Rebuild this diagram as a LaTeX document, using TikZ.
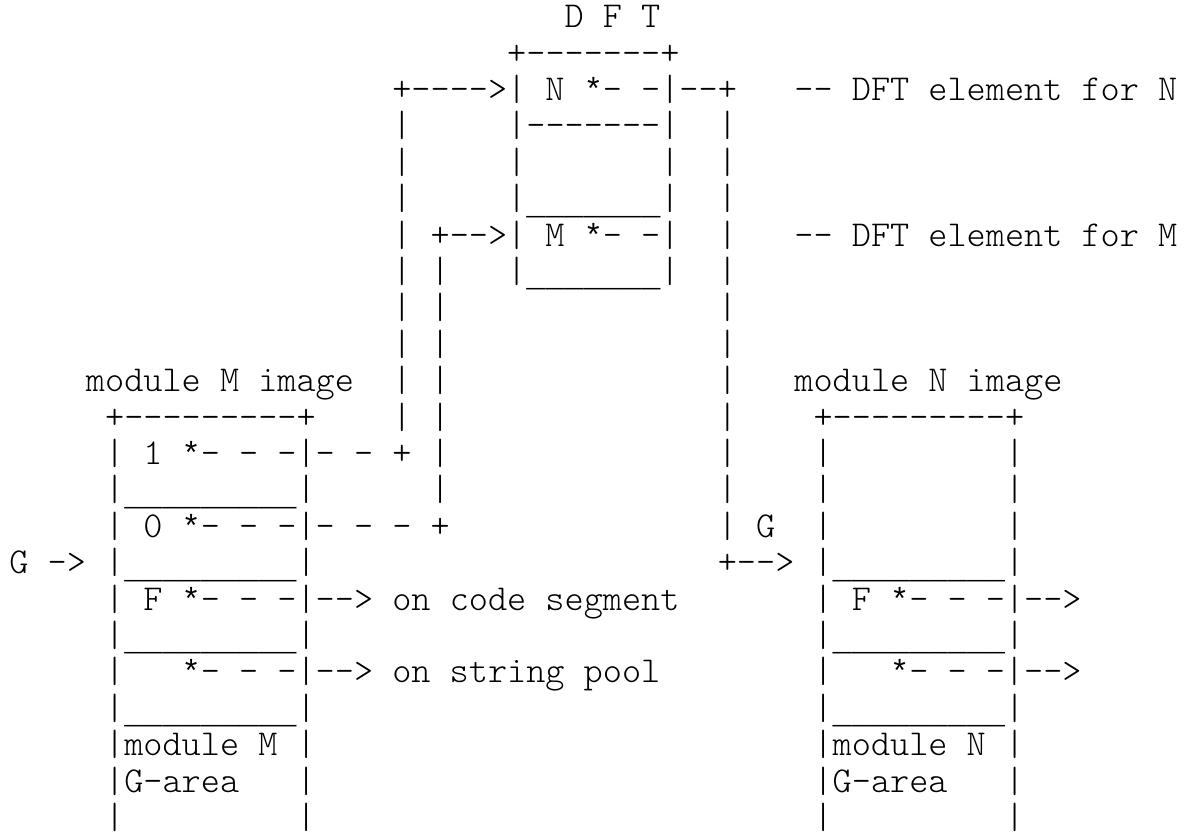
\documentclass[tikz,border=0pt]{standalone}
\usepackage{fontspec}
\setmonofont{lmmonolt10-regular.otf}
\newfontfamily\libmono{Liberation Mono}
\tikzset{
  txt/.style={anchor=base west, inner sep=0pt, outer sep=0pt,
    font=\ttfamily\fontsize{27.35pt}{27.3pt}\selectfont},
}
\newcommand\st{{\libmono\fontsize{23.94pt}{27.3pt}\selectfont*}}
\def\ulseven{\raisebox{-3.4pt}{\libmono\fontsize{23.94pt}{27.3pt}\selectfont\_\_\_\_\_\_\_}}
\def\ulnine{\raisebox{-3.4pt}{\libmono\fontsize{23.94pt}{27.3pt}\selectfont\_\_\_\_\_\_\_\_\_}}
\begin{document}
\begin{tikzpicture}
      \def\cw{14.36pt}% one character
      \def\lh{27.3pt}% one line
      \useasboundingbox (0,0) rectangle (894.75pt,-624pt);
      \begin{scope}[shift={(7.05pt,6.6pt)}, x=\cw, y=-\lh]
      %
      \node[txt] (dftTitle) at (29,1) {D F T};                  % DFT table
      \node[txt] (dftTop)   at (26,2) {+-------+};
      \node[txt] (dftN)     at (20,3) {+---->| N \st- -|--+};
      \node[txt] (noteN)    at (41,3) {-- DFT element for N};
      \node[txt] (r4a) at (20,4) {|};
      \node[txt] (r4b) at (26,4) {|-------|};
      \node[txt] (r4c) at (37,4) {|};
      \node[txt] (r5a) at (20,5) {|};
      \node[txt] (r5b) at (26,5) {|};
      \node[txt] (r5c) at (34,5) {|};
      \node[txt] (r5d) at (37,5) {|};
      \node[txt] (r6a) at (20,6) {|};
      \node[txt] (r6b) at (26,6) {|\ulseven|};
      \node[txt] (r6c) at (37,6) {|};
      \node[txt] (dftM)  at (20,7) {| +-->| M \st- -|};
      \node[txt] (r7c)   at (37,7) {|};
      \node[txt] (noteM) at (41,7) {-- DFT element for M};
      \node[txt] (r8a) at (20,8) {| |};
      \node[txt] (r8b) at (26,8) {|\ulseven|};
      \node[txt] (r8c) at (37,8) {|};
      \node[txt] (r9a)  at (20,9)  {| |};
      \node[txt] (r9c)  at (37,9)  {|};
      \node[txt] (r10a) at (20,10) {| |};
      \node[txt] (r10c) at (37,10) {|};
      %
      \node[txt] (modMTitle) at (4,11)  {module M image};        % module M
      \node[txt] (r11a)      at (20,11) {| |};
      \node[txt] (r11c)      at (37,11) {|};
      \node[txt] (modNTitle) at (41,11) {module N image};        % module N
      \node[txt] (modMTop) at (5,12)  {+---------+};
      \node[txt] (r12a)    at (20,12) {| |};
      \node[txt] (r12c)    at (37,12) {|};
      \node[txt] (modNTop) at (42,12) {+---------+};
      \node[txt] (modMOne) at (5,13)  {| 1 \st- - -|- - + |};
      \node[txt] (r13c)    at (37,13) {|};
      \node[txt] (r13d)    at (42,13) {|};
      \node[txt] (r13e)    at (52,13) {|};
      \node[txt] (r14a) at (5,14)  {|\ulnine|};
      \node[txt] (r14b) at (22,14) {|};
      \node[txt] (r14c) at (37,14) {|};
      \node[txt] (r14d) at (42,14) {|};
      \node[txt] (r14e) at (52,14) {|};
      \node[txt] (modMZero) at (5,15)  {| 0 \st- - -|- - - +};
      \node[txt] (linkG)    at (37,15) {| G};
      \node[txt] (r15d)     at (42,15) {|};
      \node[txt] (r15e)     at (52,15) {|};
      \node[txt] (gM) at (0,16)  {G -> |\ulnine|};
      \node[txt] (gN) at (37,16) {+--> |\ulnine|};
      \node[txt] (modMF) at (5,17)  {| F \st- - -|--> on code segment};
      \node[txt] (modNF) at (42,17) {| F \st- - -|-->};
      \node[txt] (r18a) at (5,18)  {|\ulnine|};
      \node[txt] (r18b) at (42,18) {|\ulnine|};
      \node[txt] (r19a)  at (5,19)  {|};
      \node[txt] (modMS) at (9,19)  {\st- - -|--> on string pool};
      \node[txt] (r19b)  at (42,19) {|};
      \node[txt] (modNS) at (46,19) {\st- - -|-->};
      \node[txt] (r20a) at (5,20)  {|\ulnine|};
      \node[txt] (r20b) at (42,20) {|\ulnine|};
      \node[txt] (areaM1) at (5,21)  {|module M};
      \node[txt] (r21b)   at (15,21) {|};
      \node[txt] (areaN1) at (42,21) {|module N};
      \node[txt] (r21d)   at (52,21) {|};
      \node[txt] (areaM2) at (5,22)  {|G-area};
      \node[txt] (r22b)   at (15,22) {|};
      \node[txt] (areaN2) at (42,22) {|G-area};
      \node[txt] (r22d)   at (52,22) {|};
      \node[txt] (r23a) at (5,23)  {|};
      \node[txt] (r23b) at (15,23) {|};
      \node[txt] (r23c) at (42,23) {|};
      \node[txt] (r23d) at (52,23) {|};
      %
      \end{scope}
\end{tikzpicture}
\end{document}
